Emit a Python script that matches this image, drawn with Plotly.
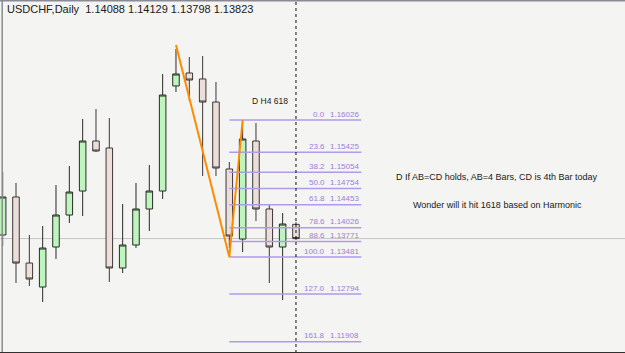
import plotly.graph_objects as go

# ---- data ----
bar_index = list(range(23))
open_ = [1.13890, 1.14596, 1.13369, 1.12924, 1.13667, 1.14261, 1.14707, 1.15636, 1.15506, 1.13277,
         1.13704, 1.14373, 1.14707, 1.16658, 1.16899, 1.16788, 1.16360, 1.15116, 1.13815, 1.15636,
         1.14373, 1.13667, 1.14088]
high = [1.15060, 1.14856, 1.13890, 1.14057, 1.14818, 1.15171, 1.16045, 1.16230, 1.16063, 1.14466,
        1.14856, 1.15190, 1.16881, 1.17345, 1.17196, 1.17215, 1.16732, 1.15246, 1.16007, 1.15970,
        1.14447, 1.14298, 1.14129]
low = [1.13685, 1.12998, 1.12942, 1.12645, 1.13444, 1.14113, 1.14243, 1.15432, 1.13017, 1.13184,
       1.13648, 1.13964, 1.14558, 1.16546, 1.16379, 1.14986, 1.14986, 1.13648, 1.13574, 1.14150,
       1.12998, 1.12682, 1.13798]
close = [1.14596, 1.13369, 1.13072, 1.13648, 1.14261, 1.14688, 1.15636, 1.15450, 1.13277, 1.13704,
         1.14373, 1.14707, 1.16490, 1.16881, 1.16769, 1.16360, 1.15134, 1.13871, 1.15673, 1.14373,
         1.13667, 1.14094, 1.13823]

# AB=CD swing points (bar index, price)
abcd_x = [13, 17, 18]
abcd_y = [1.17419, 1.13481, 1.16026]

# Fibonacci levels
fib_levels = ["0.0", "23.6", "38.2", "50.0", "61.8", "78.6", "88.6", "100.0", "127.0", "161.8"]
fib_prices = [1.16026, 1.15425, 1.15054, 1.14754, 1.14453, 1.14026, 1.13771, 1.13481, 1.12794, 1.11908]
fib_x_start = 17
fib_x_end = 26.9

header = "USDCHF,Daily  1.14088 1.14129 1.13798 1.13823"
note_label = "D H4 618"
note1 = "D If AB=CD holds, AB=4 Bars, CD is 4th Bar today"
note2 = "Wonder will it hit 1618 based on Harmonic"

# ---- figure ----
fig = go.Figure()

fig.add_trace(go.Candlestick(
    x=bar_index, open=open_, high=high, low=low, close=close,
    increasing=dict(line=dict(color="#2a2a2a", width=1), fillcolor="#bdf5bd"),
    decreasing=dict(line=dict(color="#3c3636", width=1), fillcolor="#ecdfda"),
    whiskerwidth=0, showlegend=False, hoverinfo="skip",
))

# fib lines
fx, fy = [], []
for p in fib_prices:
    fx += [fib_x_start, fib_x_end, None]
    fy += [p, p, None]
fig.add_trace(go.Scatter(x=fx, y=fy, mode="lines",
                         line=dict(color="#b09aec", width=1.5),
                         showlegend=False, hoverinfo="skip"))

# orange AB-CD line
fig.add_trace(go.Scatter(x=abcd_x, y=abcd_y, mode="lines",
                         line=dict(color="#ff8c00", width=2),
                         showlegend=False, hoverinfo="skip"))

# current price line
fig.add_shape(type="line", xref="paper", x0=0, x1=1, yref="y",
              y0=close[-1], y1=close[-1], line=dict(color="#c4c4c4", width=1), layer="below")
# current bar dotted line
fig.add_shape(type="line", xref="x", x0=bar_index[-1], x1=bar_index[-1], yref="paper",
              y0=0, y1=1, line=dict(color="#111111", width=1, dash="dot"))

# frame
fig.add_shape(type="line", xref="paper", yref="paper", x0=0, x1=1, y0=1, y1=1,
              line=dict(color="#8a8a96", width=3))
fig.add_shape(type="line", xref="paper", yref="paper", x0=0.0035, x1=0.0035, y0=0, y1=1,
              line=dict(color="#8c8c8c", width=1.5))
fig.add_shape(type="line", xref="paper", yref="paper", x0=0, x1=1, y0=0, y1=0,
              line=dict(color="#303030", width=2))

fontname = "Liberation Sans"
fibfont = dict(family=fontname, size=8, color="#9a80d8")
ann = []
for lvl, p in zip(fib_levels, fib_prices):
    ann.append(dict(x=24.33, y=p, xref="x", yref="y", text=lvl, showarrow=False,
                    xanchor="right", yanchor="middle", yshift=6, font=fibfont))
    ann.append(dict(x=fib_x_end, y=p, xref="x", yref="y", text=f"{p:.5f}", showarrow=False,
                    xanchor="right", yanchor="middle", yshift=6, font=fibfont))

ann.append(dict(x=5 / 625, y=1 - 9 / 353, xref="paper", yref="paper", text=header,
                showarrow=False, xanchor="left", yanchor="middle",
                font=dict(family=fontname, size=11, color="#202020")))
ann.append(dict(x=18.55, y=1.16379, xref="x", yref="y", text=note_label, showarrow=False,
                xanchor="left", yanchor="middle", font=dict(family=fontname, size=8.5, color="#202020")))
ann.append(dict(x=29.35, y=1.14967, xref="x", yref="y", text=note1, showarrow=False,
                xanchor="left", yanchor="middle", font=dict(family=fontname, size=9, color="#202020")))
ann.append(dict(x=30.63, y=1.14447, xref="x", yref="y", text=note2, showarrow=False,
                xanchor="left", yanchor="middle", font=dict(family=fontname, size=9, color="#202020")))

fig.update_layout(
    width=625, height=353,
    margin=dict(l=0, r=0, t=0, b=0),
    paper_bgcolor="#f4f4f2", plot_bgcolor="#f4f4f2",
    annotations=ann,
    showlegend=False,
    xaxis=dict(range=[-0.2, 46.68], visible=False, rangeslider=dict(visible=False),
               showgrid=False, zeroline=False, fixedrange=True),
    yaxis=dict(range=[1.11698, 1.18255], visible=False, showgrid=False, zeroline=False,
               fixedrange=True),
)

fig.write_html("out.html")
